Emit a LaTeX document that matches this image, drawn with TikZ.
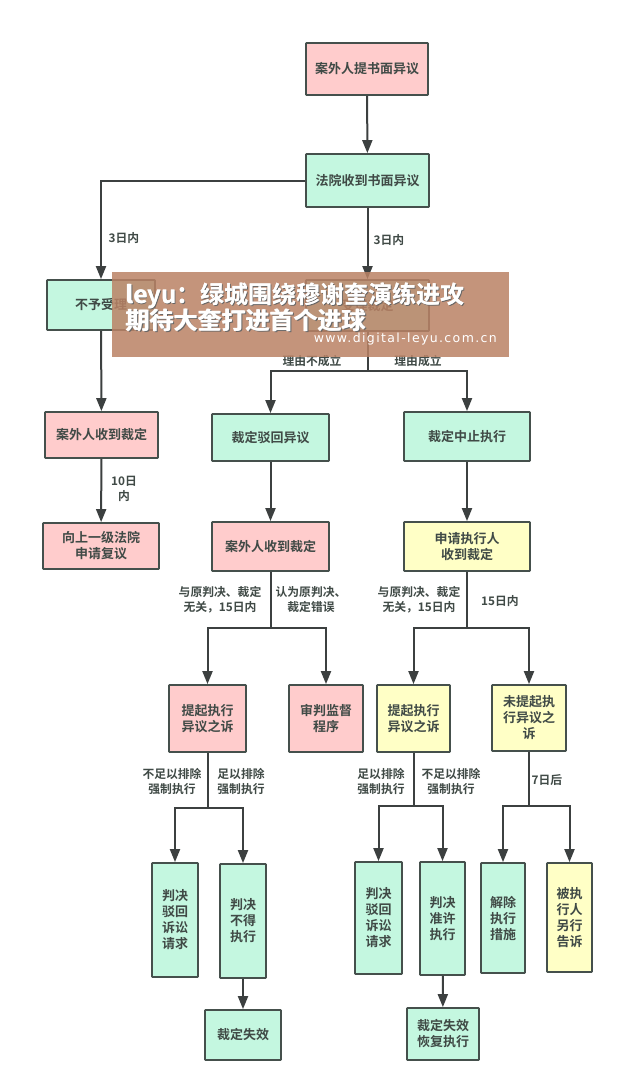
\documentclass[tikz,border=0pt]{standalone}
\usepackage{fontspec}
\setmainfont{Noto Sans CJK SC}[BoldFont={* Bold}]
\newfontfamily\urlfont[LetterSpace=11]{DejaVu Sans}
\usetikzlibrary{arrows.meta}
\definecolor{pinkfill}{HTML}{FFCCCC}
\definecolor{greenfill}{HTML}{C4F7E0}
\definecolor{yellowfill}{HTML}{FFFFC6}
\definecolor{edgec}{HTML}{45504C}
\definecolor{inkc}{HTML}{404A46}
\definecolor{linec}{HTML}{3C4040}
\definecolor{bannerc}{HTML}{BA8265}
\tikzset{
  x=1pt,y=-1pt,
  boxbase/.style={draw=edgec,line width=1.8pt,rounded corners=0.6pt,inner sep=0pt,align=center,text=inkc,
    font=\fontsize{13}{16}\selectfont\bfseries},
  pinkbox/.style={boxbase,fill=pinkfill},
  greenbox/.style={boxbase,fill=greenfill},
  yellowbox/.style={boxbase,fill=yellowfill},
  lab/.style={align=center,inner sep=0pt,text=inkc,font=\fontsize{11.8}{15}\selectfont\bfseries},
  conn/.style={draw=linec,line width=2pt},
  arr/.style={conn,-{Triangle[length=13pt,width=10pt]}},
  bannertitle/.style={anchor=west,inner sep=0pt,text=white,font=\fontsize{24}{24}\selectfont\bfseries},
  bannerurl/.style={anchor=east,inner sep=0pt,text=white,font=\fontsize{12.5}{14}\selectfont\urlfont},
}
\newcommand{\bx}[7]{\node[#6,minimum width={(#4)-(#2)},minimum height={(#5)-(#3)}] (#1) at ({((#2)+(#4))/2},{((#3)+(#5))/2}) {#7};}
\begin{document}
\begin{tikzpicture}
\useasboundingbox (0,0) rectangle (620,1089);
\fill[white] (0,0) rectangle (620,1089);
\bx{A}{306}{43}{428}{95}{pinkbox}{案外人提书面异议}
\bx{B}{306}{154}{429}{207}{greenbox}{法院收到书面异议}
\bx{C}{47}{280}{155}{330}{greenbox}{不予受理}
\bx{D}{306}{280}{429}{331}{greenbox}{受理裁定}
\bx{E}{45}{412}{158}{458}{pinkbox}{案外人收到裁定}
\bx{F}{43}{523}{159}{569}{pinkbox}{向上一级法院\\申请复议}
\bx{G}{212}{414}{329}{461}{greenbox}{裁定驳回异议}
\bx{H}{404}{412}{530}{461}{greenbox}{裁定中止执行}
\bx{I}{212}{522}{329}{571}{pinkbox}{案外人收到裁定}
\bx{J}{404}{522}{530}{571}{yellowbox}{申请执行人\\收到裁定}
\bx{K}{169}{685}{246}{752}{pinkbox}{提起执行\\异议之诉}
\bx{L}{289}{685}{363}{752}{pinkbox}{审判监督\\程序}
\bx{M}{377}{685}{450}{752}{yellowbox}{提起执行\\异议之诉}
\bx{N}{492}{685}{566}{751}{yellowbox}{未提起执\\行异议之\\诉}
\bx{P}{152}{863}{198}{977}{greenbox}{判决\\驳回\\诉讼\\请求}
\bx{Q}{220}{864}{266}{978}{greenbox}{判决\\不得\\执行}
\bx{R}{205}{1010}{281}{1060}{greenbox}{裁定失效}
\bx{S}{355}{862}{402}{974}{greenbox}{判决\\驳回\\诉讼\\请求}
\bx{T}{420}{862}{465}{975}{greenbox}{判决\\准许\\执行}
\bx{U}{481}{863}{525}{973}{greenbox}{解除\\执行\\措施}
\bx{V}{547}{863}{592}{972}{yellowbox}{被执\\行人\\另行\\告诉}
\bx{W}{407}{1008}{479}{1060}{greenbox}{裁定失效\\恢复执行}
% junctions
\coordinate (dj) at (367.5,371);
\coordinate (ij) at (270.5,628);
\coordinate (jj) at (467,628);
\coordinate (kj) at (207.5,808);
\coordinate (mj) at (413.5,806);
\coordinate (nj) at (529,806);
% connectors
\draw[arr] (A) -- (B);
\draw[arr] (B) -- (D);
\draw[arr] (B.west) -| (C.north);
\draw[arr] (C) -- (E);
\draw[arr] (E) -- (F);
\draw[conn] (D) -- (dj);
\draw[arr] (dj) -| (G.north);
\draw[arr] (dj) -| (H.north);
\draw[arr] (G) -- (I);
\draw[arr] (H) -- (J);
\draw[conn] (I) -- (ij);
\draw[arr] (ij) -| (K.north);
\draw[arr] (ij) -| (L.north);
\draw[conn] (J) -- (jj);
\draw[arr] (jj) -| (M.north);
\draw[arr] (jj) -| (N.north);
\draw[conn] (K) -- (kj);
\draw[arr] (kj) -| (P.north);
\draw[arr] (kj) -| (Q.north);
\draw[conn] (M) -- (mj);
\draw[arr] (mj) -| (S.north);
\draw[arr] (mj) -| (T.north);
\draw[conn] (N) -- (nj);
\draw[arr] (nj) -| (U.north);
\draw[arr] (nj) -| (V.north);
\draw[arr] (Q) -- (R);
\draw[arr] (T) -- (W);
% labels
\node[lab] (l1) at (124,238) {3日内};
\node[lab] (l2) at (389,240) {3日内};
\node[lab] (l3) at (312,361) {理由不成立};
\node[lab] (l4) at (418,361) {理由成立};
\node[lab] (l5) at (124,489) {10日\\内};
\node[lab] (l6) at (220,600) {与原判决、裁定\\无关，15日内};
\node[lab] (l7) at (311,600) {认为原判决、\\裁定错误};
\node[lab] (l8) at (419,600) {与原判决、裁定\\无关，15日内};
\node[lab] (l9) at (500,601) {15日内};
\node[lab] (l10) at (172,781) {不足以排除\\强制执行};
\node[lab] (l11) at (241,781) {足以排除\\强制执行};
\node[lab] (l12) at (381,781) {足以排除\\强制执行};
\node[lab] (l13) at (451,781) {不足以排除\\强制执行};
\node[lab] (l14) at (547,780) {7日后};
% banner
\fill[bannerc,fill opacity=0.85] (112,272) rectangle (509,357);
\foreach \dx/\dy/\c in {0.9/0.9/black!60,0.3/0/white,-0.3/0/white}{
  \node[bannertitle,text=\c] at (126+\dx,296+\dy) {leyu：绿城围绕穆谢奎演练进攻};
  \node[bannertitle,text=\c] at (126+\dx,320+\dy) {期待大奎打进首个进球};
}
\node[bannerurl] (t3) at (497,339) {www.digital-leyu.com.cn};
\end{tikzpicture}
\end{document}
